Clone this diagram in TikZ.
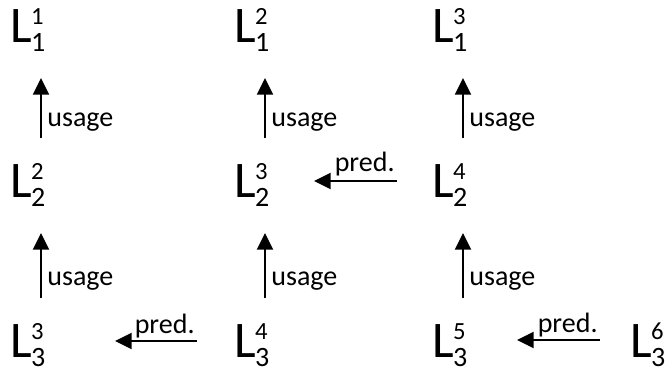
\documentclass[tikz,border=0pt]{standalone}
\usepackage{fontspec}
\setmainfont{Carlito}
\usetikzlibrary{arrows.meta}

\newcommand{\Lsc}[2]{{\fontsize{38.5}{38.5}\selectfont L}\kern-0.5pt\rlap{\raisebox{13pt}{\fontsize{18.5}{18.5}\selectfont #2}}\raisebox{-7pt}{\fontsize{21}{21}\selectfont #1}}

\tikzset{
  lsym/.style={inner sep=0pt, anchor=base west},
  link/.style={line width=1.6pt, -{Triangle[length=12.5pt,width=12pt]}},
  lbl/.style={inner sep=0pt, font=\fontsize{21}{21}\selectfont}
}

\begin{document}
\begin{tikzpicture}[x=0.75pt, y=-0.75pt]
\useasboundingbox (0,0) rectangle (667,375);

% Row 1
\node[lsym] (l11) at (10,42) {\Lsc{1}{1}};
\node[lsym] (l12) at (234,42) {\Lsc{1}{2}};
\node[lsym] (l13) at (432,42) {\Lsc{1}{3}};

% Row 2
\node[lsym] (l21) at (10,197) {\Lsc{2}{2}};
\node[lsym] (l22) at (234,197) {\Lsc{2}{3}};
\node[lsym] (l23) at (432,197) {\Lsc{2}{4}};

% Row 3
\node[lsym] (l31) at (10,357) {\Lsc{3}{3}};
\node[lsym] (l32) at (234,357) {\Lsc{3}{4}};
\node[lsym] (l33) at (432,357) {\Lsc{3}{5}};
\node[lsym] (l34) at (630,357) {\Lsc{3}{6}};

% usage, row 2 -> row 1
\draw[link] ([shift={(31,-59)}]l21.base west) -- ([shift={(31,36)}]l11.base west) node[lbl, pos=0.2, anchor=base west, xshift=4pt] {usage};
\draw[link] ([shift={(31,-59)}]l22.base west) -- ([shift={(31,36)}]l12.base west) node[lbl, pos=0.2, anchor=base west, xshift=4pt] {usage};
\draw[link] ([shift={(31,-59)}]l23.base west) -- ([shift={(31,36)}]l13.base west) node[lbl, pos=0.2, anchor=base west, xshift=4pt] {usage};

% usage, row 3 -> row 2
\draw[link] ([shift={(31,-59)}]l31.base west) -- ([shift={(31,36)}]l21.base west) node[lbl, pos=0.2, anchor=base west, xshift=4pt] {usage};
\draw[link] ([shift={(31,-59)}]l32.base west) -- ([shift={(31,36)}]l22.base west) node[lbl, pos=0.2, anchor=base west, xshift=4pt] {usage};
\draw[link] ([shift={(31,-59)}]l33.base west) -- ([shift={(31,36)}]l23.base west) node[lbl, pos=0.2, anchor=base west, xshift=4pt] {usage};

% pred.
\draw[link] ([shift={(-35,-16)}]l23.base west) -- ([shift={(80,-16)}]l22.base west) node[lbl, pos=0, anchor=base east, xshift=-1pt, yshift=7pt] {pred.};
\draw[link] ([shift={(-37,-16)}]l32.base west) -- ([shift={(105,-16)}]l31.base west) node[lbl, pos=0, anchor=base east, xshift=-1pt, yshift=6pt] {pred.};
\draw[link] ([shift={(-30,-17)}]l34.base west) -- ([shift={(85,-17)}]l33.base west) node[lbl, pos=0, anchor=base east, xshift=-1pt, yshift=6pt] {pred.};
\end{tikzpicture}
\end{document}
